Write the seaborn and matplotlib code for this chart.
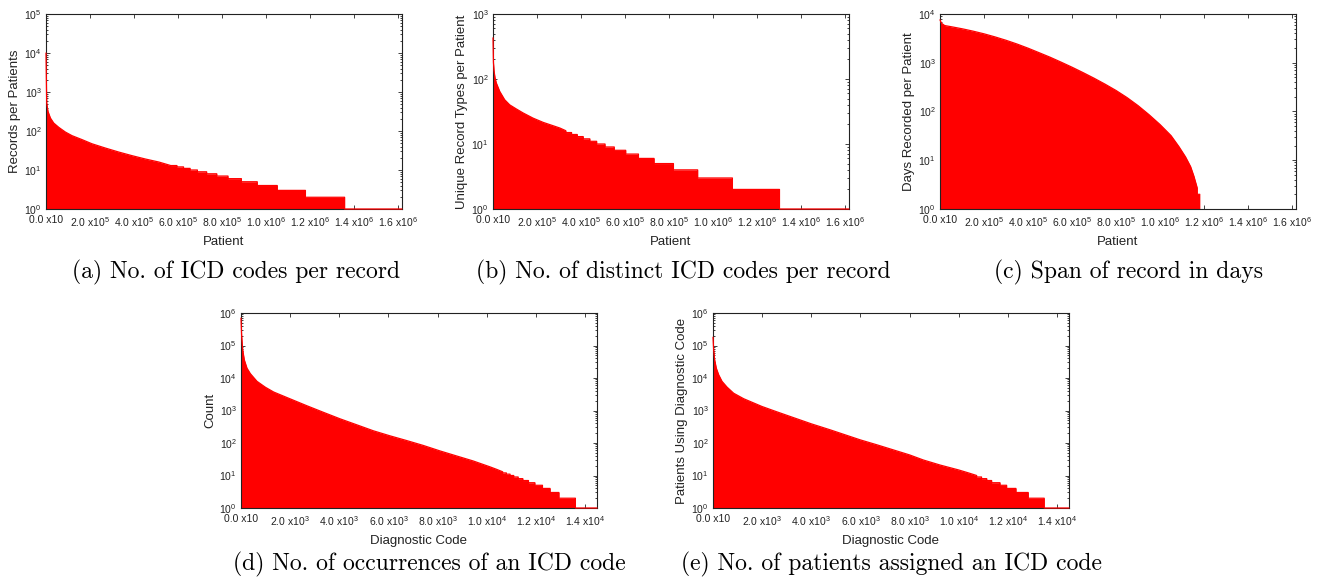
import matplotlib
matplotlib.use("Agg")
import matplotlib.pyplot as plt
import numpy as np
import seaborn as sns

# values per rank.
# head = smooth part (rank, count); runs = integer plateaus (count, rank where it ends)

# (a) records per patient
a_head_rank = [0, 3.2e3, 9e3, 2.0e4, 3.5e4, 5.8e4, 8.8e4, 1.18e5, 1.64e5, 2.09e5,
               2.7e5, 3.31e5, 3.91e5, 4.52e5, 5.13e5, 5.67e5]
a_head_count = [1e4, 520, 318, 215, 160, 124, 94, 76, 60, 47,
                36.5, 28.8, 23.3, 19.1, 16, 13]
a_run_count = [13, 12, 11, 10, 9, 8, 7, 6, 5, 4, 3, 2, 1]
a_run_end = [5.95e5, 6.25e5, 6.55e5, 6.88e5, 7.30e5, 7.76e5, 8.27e5, 8.88e5,
             9.60e5, 1.051e6, 1.179e6, 1.357e6, 1.618e6]

# (b) unique record types per patient
b_head_rank = [0, 2e3, 4.6e3, 9e3, 1.5e4, 3.05e4, 5.3e4, 7.6e4, 1.06e5, 1.37e5,
               1.82e5, 2.28e5, 2.73e5, 3.04e5, 3.31e5]
b_head_count = [430, 180, 135, 105, 87, 64.5, 48, 40, 34.6, 30,
                25, 21.5, 19.1, 17.6, 16]
b_run_count = [15, 14, 13, 12, 11, 10, 9, 8, 7, 6, 5, 4, 3, 2, 1]
b_run_end = [3.57e5, 3.83e5, 4.10e5, 4.40e5, 4.71e5, 5.09e5, 5.51e5, 6.03e5,
             6.61e5, 7.32e5, 8.20e5, 9.30e5, 1.088e6, 1.302e6, 1.618e6]

# (c) days recorded per patient
c_head_rank = [0, 6e3, 2.1e4, 5.9e4, 1.04e5, 1.5e5, 2.0e5, 2.5e5, 3.0e5, 3.5e5,
               4.0e5, 4.5e5, 5.0e5, 5.5e5, 6.0e5, 6.5e5, 7.0e5, 7.5e5, 8.0e5, 8.5e5,
               9.0e5, 9.5e5, 1.0e6, 1.05e6, 1.086e6, 1.116e6, 1.139e6, 1.154e6, 1.169e6]
c_head_count = [7600, 6500, 5800, 5400, 4940, 4450, 3920, 3390, 2890, 2420,
                1990, 1610, 1300, 1030, 810, 628, 482, 364, 270, 193,
                132, 86, 54, 32, 19, 11.7, 7.4, 4.7, 2.7]
c_run_count = [2]
c_run_end = [1.181e6]

# (d) occurrences per diagnostic code
d_head_rank = [0, 27, 68, 135, 244, 380, 650, 990, 1330, 2000,
               2680, 3360, 4035, 4710, 5390, 6065, 6740, 7420, 8100, 8770,
               9450, 10130, 10400, 10650]
d_head_count = [7e5, 1.9e5, 7.4e4, 3.6e4, 2.0e4, 1.36e4, 7900, 5200, 3700, 2280,
                1400, 875, 553, 363, 237, 166, 119, 84, 57, 40,
                28, 18.5, 15.5, 13]
d_run_count = [12, 11, 10, 9, 8, 7, 6, 5, 4, 3, 2, 1]
d_run_end = [10800, 10950, 11100, 11280, 11470, 11700, 11960, 12270, 12580,
             12940, 13610, 14490]

# (e) patients per diagnostic code
e_head_rank = [0, 27, 68, 135, 230, 366, 570, 840, 1250, 1990,
               2600, 3140, 4000, 4770, 5990, 6670, 8000, 8560, 9240, 10000,
               10400, 10730]
e_head_count = [1.8e5, 7.4e4, 3.6e4, 2.0e4, 1.26e4, 7900, 5250, 3400, 2300, 1330,
                910, 655, 389, 254, 125, 88, 43, 30, 21, 14.8,
                12, 10]
e_run_count = [9, 8, 7, 6, 5, 4, 3, 2, 1]
e_run_end = [10930, 11140, 11340, 11680, 11950, 12330, 12830, 13480, 14490]

ylabels = ["Records per Patients", "Unique Record Types per Patient",
           "Days Recorded per Patient", "Count", "Patients Using Diagnostic Code"]
xlabels = ["Patient", "Patient", "Patient", "Diagnostic Code", "Diagnostic Code"]
captions = ["(a) No. of ICD codes per record",
            "(b) No. of distinct ICD codes per record",
            "(c) Span of record in days",
            "(d) No. of occurrences of an ICD code",
            "(e) No. of patients assigned an ICD code"]
ytop_exp = [5, 3, 4, 6, 6]

sns.set_theme(style="ticks")
plt.rcParams.update({
    "font.family": ["Liberation Sans", "DejaVu Sans"],
    "mathtext.fontset": "custom",
    "mathtext.rm": "Liberation Sans",
    "mathtext.it": "Liberation Sans:italic",
    "mathtext.bf": "Liberation Sans:bold",
    "axes.edgecolor": "#222222",
    "axes.linewidth": 0.8,
    "xtick.color": "#222222",
    "ytick.color": "#222222",
    "text.color": "#222222",
    "axes.labelcolor": "#222222",
})


def curve(head_rank, head_count, run_count, run_end):
    xs = list(head_rank)
    ys = list(head_count)
    start = head_rank[-1]
    for v, end in zip(run_count, run_end):
        xs += [start, end]
        ys += [v, v]
        start = end
    return np.array(xs), np.array(ys)


def sci(v):
    if v == 0:
        return "0.0 x10"
    e = int(np.floor(np.log10(v) + 1e-9))
    return "%.1f x10$^{%d}$" % (v / 10 ** e, e)


def panel(ax, x, y, xmax, xstep, ytop, ylabel, xlabel):
    ax.fill_between(x, y, 0.1, color="#ff0000", linewidth=0, zorder=1)
    sns.lineplot(x=x, y=y, sort=False, estimator=None, color="#ff0000",
                 linewidth=0.9, ax=ax, zorder=5, clip_on=False)
    ax.set_yscale("log")
    ax.set_xlim(0, xmax)
    ax.set_ylim(1, 10 ** ytop)
    xt = np.arange(0, xmax, xstep)
    ax.set_xticks(xt)
    ax.set_xticklabels([sci(v) for v in xt])
    ax.xaxis.set_minor_locator(matplotlib.ticker.NullLocator())
    yt = [10 ** k for k in range(ytop + 1)]
    ax.set_yticks(yt)
    ax.set_yticklabels(["10$^{%d}$" % k for k in range(ytop + 1)])
    ax.yaxis.set_minor_locator(matplotlib.ticker.LogLocator(base=10, subs=np.arange(2, 10)))
    ax.yaxis.set_minor_formatter(matplotlib.ticker.NullFormatter())
    ax.tick_params(which="both", direction="in", top=True, right=True, width=0.6)
    ax.tick_params(which="major", length=3)
    ax.tick_params(which="minor", length=1.6)
    ax.tick_params(axis="x", labelsize=7.5, pad=4.5)
    ax.tick_params(axis="y", labelsize=7.5, pad=3)
    ax.set_axisbelow(True)
    ax.set_ylabel(ylabel, fontsize=9.5)
    ax.set_xlabel(xlabel, fontsize=9.5)
    ax.yaxis.set_label_coords(-0.07, 0.5)
    ax.xaxis.set_label_coords(0.5, -0.14)
    for s in ax.spines.values():
        s.set_visible(True)
        s.set_zorder(4)


fig = plt.figure(figsize=(13.23, 5.87), dpi=100)
W, H = 1323, 587
boxes = [(46, 14, 356, 195), (493, 14, 356, 195), (940, 14, 356, 195),
         (241, 313, 356, 195), (713, 313, 356, 195)]
series = [curve(a_head_rank, a_head_count, a_run_count, a_run_end),
          curve(b_head_rank, b_head_count, b_run_count, b_run_end),
          curve(c_head_rank, c_head_count, c_run_count, c_run_end),
          curve(d_head_rank, d_head_count, d_run_count, d_run_end),
          curve(e_head_rank, e_head_count, e_run_count, e_run_end)]
xmaxs = [1.618e6, 1.618e6, 1.618e6, 1.449e4, 1.449e4]
xsteps = [2e5, 2e5, 2e5, 2e3, 2e3]
cap_x = [236, 683, 1128, 429, 891]
cap_y = [278, 278, 278, 570, 570]

for i, (l, t, w, h) in enumerate(boxes):
    ax = fig.add_axes([l / W, 1 - (t + h) / H, w / W, h / H])
    x, y = series[i]
    panel(ax, x, y, xmaxs[i], xsteps[i], ytop_exp[i], ylabels[i], xlabels[i])
    fig.text(cap_x[i] / W, 1 - cap_y[i] / H, captions[i], ha="center",
             va="baseline", fontsize=17, family="cmr10", color="black")

fig.savefig("out.png", dpi=100)
